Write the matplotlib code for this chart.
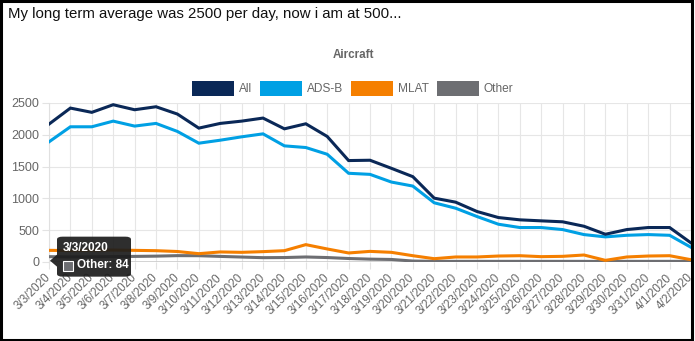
import matplotlib
matplotlib.use("Agg")
import matplotlib.pyplot as plt
from matplotlib.patches import Rectangle, FancyBboxPatch, Polygon

# data
dates = ["3/3/2020", "3/4/2020", "3/5/2020", "3/6/2020", "3/7/2020", "3/8/2020",
         "3/9/2020", "3/10/2020", "3/11/2020", "3/12/2020", "3/13/2020", "3/14/2020",
         "3/15/2020", "3/16/2020", "3/17/2020", "3/18/2020", "3/19/2020", "3/20/2020",
         "3/21/2020", "3/22/2020", "3/23/2020", "3/24/2020", "3/25/2020", "3/26/2020",
         "3/27/2020", "3/28/2020", "3/29/2020", "3/30/2020", "3/31/2020", "4/1/2020",
         "4/2/2020"]
all_ac = [2168, 2420, 2353, 2473, 2394, 2441, 2326, 2105, 2179, 2215, 2263, 2094,
          2173, 1974, 1595, 1600, 1473, 1342, 1004, 941, 794, 699, 663, 647, 632,
          562, 436, 510, 542, 542, 300]
adsb = [1889, 2126, 2126, 2215, 2137, 2179, 2053, 1868, 1915, 1968, 2015, 1826,
        1800, 1694, 1395, 1378, 1257, 1194, 931, 846, 715, 594, 542, 542, 510,
        431, 395, 420, 431, 420, 231]
mlat = [183, 180, 185, 188, 183, 178, 165, 131, 158, 152, 163, 178, 273, 205, 142,
        167, 152, 99, 52, 79, 79, 94, 99, 84, 89, 110, 26, 79, 94, 99, 36]
other = [84, 80, 82, 85, 88, 92, 100, 99, 88, 78, 68, 70, 79, 70, 55, 45, 40, 15,
         10, 10, 10, 10, 10, 10, 10, 10, 8, 10, 10, 10, 10]
names = ["All", "ADS-B", "MLAT", "Other"]
colors = ["#0a2857", "#00a0e4", "#f57f00", "#6d6e72"]
yticks = [0, 500, 1000, 1500, 2000, 2500]

plt.rcParams['font.family'] = ['Liberation Sans', 'DejaVu Sans']

W, H = 695, 341
fig = plt.figure(figsize=(W / 100, H / 100), dpi=100)
fig.patch.set_facecolor("white")

def px(x, y):
    return x / W, 1 - y / H

ax = fig.add_axes([49 / W, 1 - 262 / H, (691 - 49) / W, (262 - 103) / H])
x = list(range(len(dates)))
series = [all_ac, adsb, mlat, other]
for vals, c in zip(reversed(series), reversed(colors)):
    ax.plot(x, vals, color=c, lw=2.2, solid_joinstyle='miter', zorder=3)

ax.set_xlim(0, len(dates) - 1)
ax.set_ylim(0, 2500)
ax.set_yticks(yticks)
ax.set_xticks(x)
ax.set_xticklabels(dates, rotation=45, ha='right', va='center', rotation_mode='anchor')
ax.grid(True, color="#e6e6e6", lw=0.8)
ax.axhline(0, color="#cccccc", lw=1.2, zorder=2)
for s in ax.spines.values():
    s.set_visible(False)
ax.spines['left'].set_visible(True)
ax.spines['left'].set_color("#e0e0e0")
ax.tick_params(axis='both', colors="#e3e3e3", length=5, width=0.8, labelcolor="#666666")
ax.tick_params(axis='y', labelsize=9, pad=2)
ax.tick_params(axis='x', labelsize=8.5, pad=5)

# titles
fig.text(*px(8, 14), "My long term average was 2500 per day, now i am at 500...",
         fontsize=10.8, color="#111111", va='center', ha='left')
fig.text(*px(353.5, 55), "Aircraft", fontsize=8.4, fontweight='bold',
         color="#666666", ha='center', va='center')

# legend
box_x = [192, 260, 351, 437]
for bx, name, c in zip(box_x, names, colors):
    fig.patches.append(Rectangle(px(bx, 96), 42 / W, 15 / H, facecolor=c,
                                 edgecolor='none', transform=fig.transFigure))
    fig.text(*px(bx + 47, 88.5), name, fontsize=8.6, color="#666666",
             ha='left', va='center')

# tooltip on the first "Other" point
fig.canvas.draw()
tx, ty = ax.transData.transform((0, other[0]))
ty = H - ty
fig.patches.append(FancyBboxPatch(px(tx + 8, ty + 20), 74 / W, 40 / H,
                                  boxstyle="round,pad=0,rounding_size=0.008",
                                  facecolor="#1c1c1c", edgecolor='none', alpha=0.92,
                                  transform=fig.transFigure, zorder=10))
fig.patches.append(Polygon([px(tx + 1, ty + 4), px(tx + 8, ty - 2), px(tx + 8, ty + 10)],
                           closed=True, facecolor="#1c1c1c", edgecolor='none',
                           alpha=0.92, transform=fig.transFigure, zorder=10))
fig.text(*px(tx + 14, ty - 9), dates[0], fontsize=8.5, fontweight='bold',
         color="white", ha='left', va='center', zorder=11)
fig.patches.append(Rectangle(px(tx + 14, ty + 14), 10 / W, 10 / H, facecolor=colors[3],
                             edgecolor='white', lw=0.8, transform=fig.transFigure,
                             zorder=11))
fig.text(*px(tx + 28, ty + 8), "Other: %d" % other[0], fontsize=8.5, fontweight='bold',
         color="white", ha='left', va='center', zorder=11)

# outer frame
fig.patches.append(Rectangle((0.001, 0.002), 0.995, 0.995, fill=False, edgecolor='black',
                             lw=2.2, transform=fig.transFigure, zorder=20))

fig.savefig("out.png", dpi=100, facecolor="white")
